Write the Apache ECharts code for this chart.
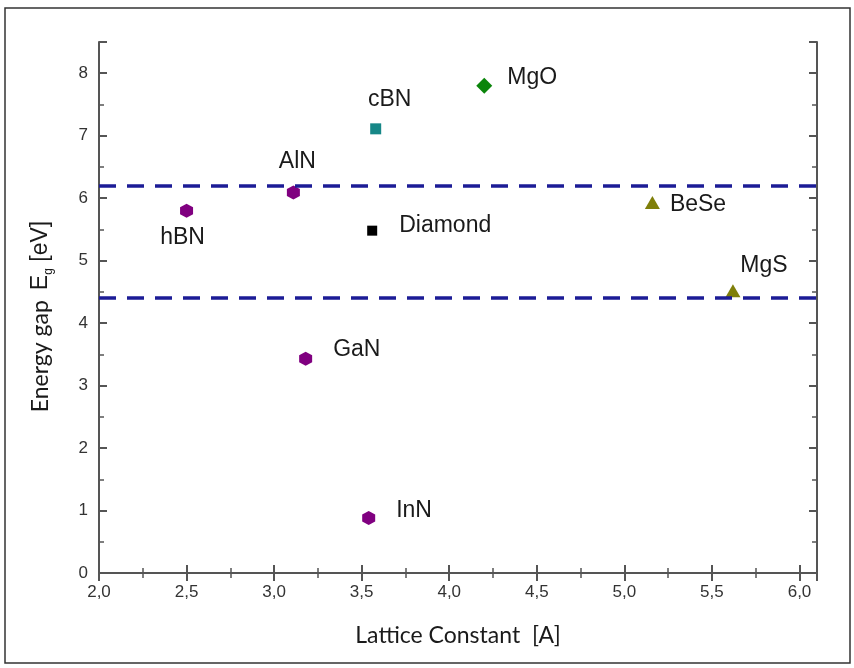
<!DOCTYPE html>
<html>
<head>
<meta charset="utf-8">
<script src="https://cdn.jsdelivr.net/npm/echarts@6/dist/echarts.min.js"></script>
<style>html,body{margin:0;padding:0;background:#fff}#c{width:854px;height:668px}</style>
</head>
<body>
<div id="c"></div>
<script>
// ---- data ----
var materials = ['hBN', 'AlN', 'cBN', 'MgO', 'Diamond', 'BeSe', 'MgS', 'GaN', 'InN'];
var latticeConst = [2.50, 3.11, 3.58, 4.20, 3.56, 5.16, 5.62, 3.18, 3.54];
var energyGap = [5.80, 6.09, 7.11, 7.80, 5.48, 5.93, 4.52, 3.43, 0.88];
var thresholds = [6.2, 4.4];
var xTicks = [2.0, 2.5, 3.0, 3.5, 4.0, 4.5, 5.0, 5.5, 6.0];
var yTicks = [0, 1, 2, 3, 4, 5, 6, 7, 8];

// ---- styles (per material) ----
var hex = 'path://M0,-1 L0.866,-0.5 L0.866,0.5 L0,1 L-0.866,0.5 L-0.866,-0.5 Z';
var styles = {
  hBN:     {symbol: hex, size: [13, 14], color: '#800080', pos: 'bottom', dist: 8, off: [-4, 0]},
  AlN:     {symbol: hex, size: [13, 14], color: '#800080', pos: 'top', dist: 12, off: [4, 0]},
  cBN:     {symbol: 'rect', size: 11, color: '#168787', pos: 'top', dist: 12, off: [14, 0]},
  MgO:     {symbol: 'diamond', size: [16, 16], color: '#0b850b', pos: 'right', dist: 15, off: [0, -8]},
  Diamond: {symbol: 'rect', size: 10, color: '#000000', pos: 'right', dist: 22, off: [0, -5]},
  BeSe:    {symbol: 'triangle', size: [15, 13], color: '#7f7f0a', pos: 'right', dist: 10, off: [0, 2]},
  MgS:     {symbol: 'triangle', size: [15, 13], color: '#7f7f0a', pos: 'top', dist: 7, off: [31, 0]},
  GaN:     {symbol: hex, size: [13, 14], color: '#800080', pos: 'right', dist: 21, off: [0, -9]},
  InN:     {symbol: hex, size: [13, 14], color: '#800080', pos: 'right', dist: 21, off: [0, -7]}
};

var xMin = xTicks[0], xMax = 6.1, yMin = yTicks[0], yMax = 8.5;

function fmtX(v) {
  if (xTicks.indexOf(Math.round(v * 100) / 100) < 0) return '';
  return v.toFixed(1).replace('.', ',');
}
function fmtY(v) {
  if (yTicks.indexOf(v) < 0) return '';
  return String(v);
}

function axisLine() { return {show: true, lineStyle: {color: '#555', width: 2}}; }
function tick() { return {show: true, inside: true, length: 8, lineStyle: {color: '#555', width: 2}}; }
function minor() { return {show: true, splitNumber: 2, length: 5, lineStyle: {color: '#555', width: 1.5}}; }

var series = materials.map(function (m, i) {
  var s = styles[m];
  return {
    type: 'scatter',
    name: m,
    xAxisIndex: 0, yAxisIndex: 0,
    symbol: s.symbol,
    symbolSize: s.size,
    itemStyle: {color: s.color, opacity: 1},
    data: [[latticeConst[i], energyGap[i]]],
    label: {
      show: true,
      formatter: m,
      position: s.pos,
      distance: s.dist,
      offset: s.off,
      color: '#1a1a1a',
      opacity: 1,
      fontFamily: 'Liberation Sans, Arial, sans-serif',
      fontSize: 23
    },
    emphasis: {disabled: true},
    z: 3
  };
});

series.push({
  type: 'line',
  xAxisIndex: 0, yAxisIndex: 0,
  data: [],
  markLine: {
    silent: true,
    symbol: 'none',
    label: {show: false},
    lineStyle: {color: '#1c1c96', width: 3.5, type: [17, 11], opacity: 1},
    data: thresholds.map(function (t) { return {yAxis: t}; })
  },
  z: 2
});

var chart = echarts.init(document.getElementById('c'), null, {renderer: 'canvas'});
chart.setOption({
  animation: false,
  backgroundColor: '#fff',
  grid: {left: 99, right: 37, top: 42, bottom: 95, containLabel: false},
  graphic: [{
    type: 'rect',
    shape: {x: 5, y: 8, width: 845, height: 655},
    style: {fill: 'none', stroke: '#333', lineWidth: 1.5},
    z: -1
  }],
  xAxis: [{
    type: 'value', position: 'bottom', min: xMin, max: xMax, interval: 0.5,
    axisLine: axisLine(), axisTick: tick(), minorTick: minor(),
    splitLine: {show: false},
    axisLabel: {formatter: fmtX, showMaxLabel: false, color: '#333', fontSize: 17,
      fontFamily: 'Liberation Sans, Arial, sans-serif', margin: 11},
    name: 'Lattice Constant  [A]', nameLocation: 'middle', nameGap: 51,
    nameTextStyle: {fontFamily: 'Lato, sans-serif', fontSize: 23, color: '#1a1a1a'}
  }, {
    type: 'value', position: 'top', min: xMin, max: xMax, interval: 0.5,
    axisLine: axisLine(), axisTick: tick(), minorTick: minor(),
    splitLine: {show: false}, axisLabel: {show: false}
  }],
  yAxis: [{
    type: 'value', position: 'left', min: yMin, max: yMax, interval: 1,
    axisLine: axisLine(), axisTick: tick(), minorTick: minor(),
    splitLine: {show: false},
    axisLabel: {formatter: fmtY, showMaxLabel: false, color: '#333', fontSize: 17,
      fontFamily: 'Liberation Sans, Arial, sans-serif', margin: 11},
    name: '{a|Energy gap}   {b|E}{s|g}{b| [eV]}',
    nameLocation: 'middle', nameGap: 44,
    nameTextStyle: {
      color: '#1a1a1a',
      padding: [0, 18, 0, 0],
      rich: {
        a: {fontFamily: 'Lato, sans-serif', fontSize: 23, color: '#1a1a1a', lineHeight: 28},
        b: {fontFamily: 'Liberation Sans, Arial, sans-serif', fontSize: 23, color: '#1a1a1a', lineHeight: 28},
        s: {fontFamily: 'Liberation Sans, Arial, sans-serif', fontSize: 12, color: '#1a1a1a', lineHeight: 28, verticalAlign: 'bottom', padding: [12, 0, 0, 0]}
      }
    }
  }, {
    type: 'value', position: 'right', min: yMin, max: yMax, interval: 1,
    axisLine: axisLine(), axisTick: tick(), minorTick: minor(),
    splitLine: {show: false}, axisLabel: {show: false}
  }],
  series: series
});
</script>
</body>
</html>
